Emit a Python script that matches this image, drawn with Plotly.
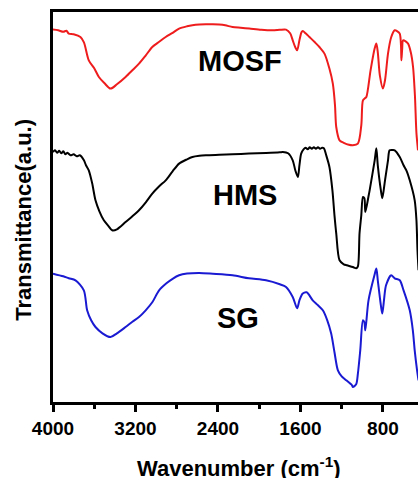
import plotly.graph_objects as go

# ---------------- data ----------------
mosf_wn = [4000, 3950, 3900, 3870, 3847, 3800, 3734, 3700, 3653, 3600, 3555, 3500, 3442, 3380,
           3296, 3230, 3166, 3100, 3037, 2970, 2907, 2840, 2777, 2700, 2648, 2580, 2518, 2450,
           2388, 2330, 2259, 2180, 2096, 1980, 1870, 1800, 1740, 1700, 1675, 1650, 1632, 1610,
           1590, 1578, 1550, 1513, 1460, 1416, 1367, 1320, 1286, 1265, 1253, 1221, 1180, 1130,
           1092, 1043, 1010, 994, 975, 961, 920, 880, 864, 850, 830, 800, 780, 751, 720, 686,
           660, 637, 625, 621, 613, 605, 580, 557, 530, 508, 490, 475, 460]
mosf_t = [370.7, 370, 368.5, 369.5, 366.7, 366, 363.3, 358, 340, 332, 323.3, 317, 311.7, 316,
          323.3, 330, 336.7, 345, 353.3, 358.5, 363.3, 367.5, 371.7, 374, 375, 375.7, 376, 376,
          375.7, 375, 373.3, 372.5, 371.7, 370.5, 370, 370.5, 370.7, 367, 360, 353, 350, 360,
          368, 369.3, 367, 363.3, 358, 353.3, 346.7, 332, 316.7, 295, 273.3, 260, 257.5, 255.5,
          255, 256.7, 275, 300, 302, 303.3, 330, 352, 356.7, 348, 325, 311.7, 320, 346.7, 363, 370,
          369, 366.7, 355, 340, 352, 360, 359, 356.7, 348, 333.3, 305, 267, 250]

hms_wn = [4000, 3980, 3960, 3940, 3920, 3900, 3880, 3860, 3830, 3800, 3770, 3740, 3700, 3680,
          3653, 3620, 3588, 3550, 3507, 3460, 3426, 3380, 3296, 3230, 3166, 3100, 3037, 2970,
          2907, 2840, 2777, 2700, 2648, 2580, 2518, 2388, 2259, 2100, 1934, 1800, 1771, 1720,
          1675, 1650, 1625, 1610, 1593, 1570, 1550, 1530, 1510, 1490, 1470, 1450, 1430, 1410,
          1390, 1373, 1350, 1319, 1290, 1270, 1253, 1221, 1180, 1150, 1092, 1059, 1043, 1027,
          1010, 994, 980, 971, 940, 929, 880, 864, 850, 820, 806, 780, 751, 735, 702, 686, 637,
          600, 573, 540, 492, 475, 465, 455]
hms_t = [248.3, 250, 247.5, 249.5, 247, 249, 246, 247.5, 245, 246, 244, 245, 240, 235,
         230, 217, 200, 189, 180, 174, 170, 171, 178.3, 184, 190, 198, 206.7, 214,
         220, 229, 236.7, 241, 243.3, 244.5, 245, 245.5, 246, 246.8, 247.3, 248, 248.3, 247,
         240, 230, 223.3, 235, 246.7, 251, 252.5, 251, 253, 251.5, 253, 251.5, 253, 251.5,
         252.5, 252, 245, 233.3, 210, 185, 167, 140, 136, 135, 133.3, 132, 134, 167,
         185, 203.3, 202, 188.3, 204, 210, 240, 252, 235, 210, 202, 220, 240, 250, 250.3, 250, 243.3,
         235, 230, 220, 200, 180, 150, 130]

sg_wn = [4000, 3900, 3847, 3782, 3701, 3669, 3630, 3588, 3520, 3442, 3380, 3296, 3230,
         3166, 3101, 3037, 2971, 2900, 2840, 2777, 2700, 2583, 2450, 2259, 2100, 1934, 1800,
         1740, 1675, 1632, 1610, 1578, 1540, 1481, 1430, 1383, 1340, 1302, 1270, 1237,
         1200, 1156, 1100, 1092, 1060, 1043, 1020, 994, 980, 971, 940, 880, 864, 850, 820, 806,
         790, 770, 720, 686, 637, 600, 540, 510, 492, 469, 455]
sg_t = [126.7, 124, 122, 120, 110, 90, 80, 73.3, 67, 63.3, 67, 73.3, 78.5,
        83.3, 90, 98, 110, 117, 121.5, 125, 126.7, 127.3, 126.5, 125, 122, 120, 116,
        113.3, 103.3, 92, 100, 106.7, 108, 100, 95, 90, 80, 66.7, 48, 30,
        24, 20, 15, 13.3, 16, 26.7, 50, 80, 78, 70, 100, 126, 131.7, 120, 95, 86.7,
        100, 115, 125, 122, 120, 110, 90, 70, 50, 30, 20]

sample_names = ["MOSF", "HMS", "SG"]
line_colors = ["#ee1c1c", "#000000", "#1a1ad2"]
major_ticks = [4000, 3200, 2400, 1600, 800]
minor_ticks = [3600, 2800, 2000, 1200]

FONT = "Liberation Sans, Arial, sans-serif"

fig = go.Figure()
for wn, t, name, col in zip([mosf_wn, hms_wn, sg_wn], [mosf_t, hms_t, sg_t], sample_names, line_colors):
    fig.add_trace(go.Scatter(x=wn, y=t, mode="lines", name=name,
                             line=dict(color=col, width=2, shape="spline", smoothing=0.8),
                             showlegend=False, hoverinfo="skip"))

label_pos = {"MOSF": (2184, 339.7), "HMS": (2138, 205), "SG": (2206, 82)}
for name in sample_names:
    lx, ly = label_pos[name]
    fig.add_annotation(x=lx, y=ly, text=name, showarrow=False, xanchor="center", yanchor="middle",
                       font=dict(family=FONT, size=29, color="black", weight="bold"))

fig.add_annotation(xref="paper", yref="paper", x=0.509, y=-0.1667, text="Wavenumber (cm<sup>-1</sup>)",
                   showarrow=False, xanchor="center", yanchor="middle",
                   font=dict(family=FONT, size=22, color="black", weight="bold"))
fig.add_annotation(xref="paper", yref="paper", x=-0.08, y=0.467, text="Transmittance(a.u.)",
                   showarrow=False, xanchor="center", yanchor="middle", textangle=-90,
                   font=dict(family=FONT, size=22, color="black", weight="bold"))

fig.update_layout(
    width=418, height=478,
    margin=dict(l=53, r=0, t=12, b=76),
    paper_bgcolor="white", plot_bgcolor="white",
    xaxis=dict(range=[4000, 460], tickvals=major_ticks, ticks="outside", ticklen=7, tickwidth=2.5,
               tickcolor="black", showline=True, linecolor="black", linewidth=2.5, mirror=True,
               showgrid=False, zeroline=False,
               tickfont=dict(family=FONT, size=19, color="black", weight="bold"),
               minor=dict(tickvals=minor_ticks, ticks="outside", ticklen=4, tickwidth=2.5,
                          tickcolor="black", showgrid=False)),
    yaxis=dict(range=[-1.7, 388.3], showticklabels=False, ticks="", showline=True,
               linecolor="black", linewidth=2.5, mirror=False, showgrid=False, zeroline=False),
)

fig.write_html("out.html", config={"displayModeBar": False},
               post_script="document.body.style.margin='0';document.body.style.overflow='hidden';")
